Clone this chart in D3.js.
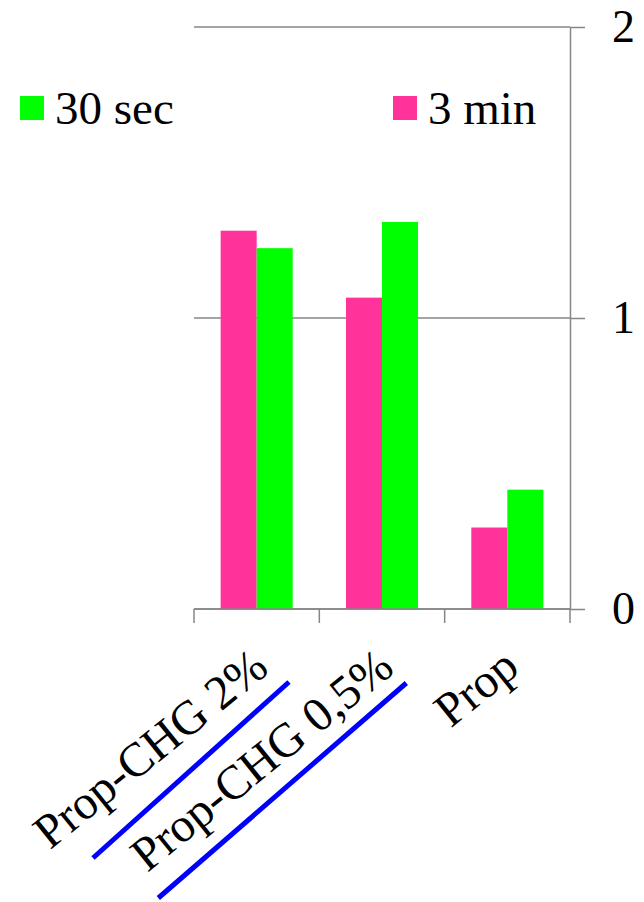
<!DOCTYPE html>
<html><head><meta charset="utf-8">
<script src="https://cdn.jsdelivr.net/npm/d3@7"></script>
</head><body>
<script>
const categories = ["Prop-CHG 2%", "Prop-CHG 0,5%", "Prop"];
const seriesNames = ["3 min", "30 sec"];
const values3min = [1.30, 1.07, 0.28];
const values30sec = [1.24, 1.33, 0.41];
const yTicks = [0, 1, 2];
const colors = {"3 min": "#FF3399", "30 sec": "#00FF00"};

const W = 644, H = 902;
const FF = '"Liberation Serif"';
d3.select("body").style("margin", "0").style("padding", "0");
const svg = d3.select("body").append("svg").attr("width", W).attr("height", H).style("display", "block");

const x = d3.scaleBand().domain(categories).range([194, 570]).paddingInner(0).paddingOuter(0);
const x1 = d3.scaleBand().domain(seriesNames).range([0, x.bandwidth()]).paddingInner(0).paddingOuter(0.74);
const y = d3.scaleLinear().domain([0, 2]).range([609, 27]);

const grey = "#868686";
svg.append("g").selectAll("line").data(yTicks).join("line")
  .attr("x1", 194).attr("x2", 570)
  .attr("y1", d => y(d)).attr("y2", d => y(d))
  .attr("stroke", grey).attr("stroke-width", 1.5);

const data = categories.map((c, i) => ({cat: c, vals: [
  {s: "3 min", v: values3min[i]}, {s: "30 sec", v: values30sec[i]}]}));
svg.append("g").selectAll("g").data(data).join("g")
  .attr("transform", d => `translate(${x(d.cat)},0)`)
  .selectAll("rect").data(d => d.vals).join("rect")
  .attr("x", d => x1(d.s)).attr("width", x1.bandwidth())
  .attr("y", d => y(d.v)).attr("height", d => y(0) - y(d.v))
  .attr("fill", d => colors[d.s]);

svg.append("line").attr("x1", 194).attr("x2", 570).attr("y1", y(0)).attr("y2", y(0))
  .attr("stroke", grey).attr("stroke-width", 1.5);

const ra = svg.append("g").attr("transform", "translate(570,0)")
  .call(d3.axisRight(y).tickValues(yTicks).tickSize(15).tickSizeOuter(0).tickPadding(27).tickFormat(d3.format("d")));
ra.select(".domain").attr("stroke", grey).attr("stroke-width", 1.5);
ra.selectAll(".tick line").attr("stroke", grey).attr("stroke-width", 1.5);
ra.selectAll(".tick text").style("font-family", FF).style("font-size", "46px").attr("fill", "#000");

const bounds = categories.map(c => x(c)).concat([x(categories[categories.length - 1]) + x.bandwidth()]);
svg.append("g").selectAll("line").data(bounds).join("line")
  .attr("x1", d => d).attr("x2", d => d).attr("y1", y(0)).attr("y2", y(0) + 14)
  .attr("stroke", grey).attr("stroke-width", 1.5);

svg.append("g").selectAll("text").data(categories).join("text")
  .attr("transform", d => `translate(${x(d) + x.bandwidth() / 2 + 14},${y(0) + 62.5}) rotate(-39)`)
  .attr("text-anchor", "end")
  .style("font-family", FF).style("font-size", "48px").attr("fill", "#000")
  .text(d => d);

const annot = [
  {cat: 0, dx1: -101, dy1: 249, dx2: 95, dy2: 73},
  {cat: 1, dx1: -161, dy1: 289, dx2: 87, dy2: 74}
];
svg.append("g").selectAll("line").data(annot).join("line")
  .attr("x1", d => x(categories[d.cat]) + d.dx1).attr("y1", d => y(0) + d.dy1)
  .attr("x2", d => x(categories[d.cat]) + d.dx2).attr("y2", d => y(0) + d.dy2)
  .attr("stroke", "#0000FF").attr("stroke-width", 5);

const legendItems = [
  {name: "30 sec", sx: 20, tx: 55},
  {name: "3 min", sx: 393, tx: 428}
];
const lg = svg.append("g");
lg.selectAll("rect").data(legendItems).join("rect")
  .attr("x", d => d.sx).attr("y", 96).attr("width", 24).attr("height", 24)
  .attr("fill", d => colors[d.name]);
lg.selectAll("text").data(legendItems).join("text")
  .attr("x", d => d.tx).attr("y", 124)
  .style("font-family", FF).style("font-size", "47px").attr("fill", "#000")
  .text(d => d.name);
</script>
</body></html>
